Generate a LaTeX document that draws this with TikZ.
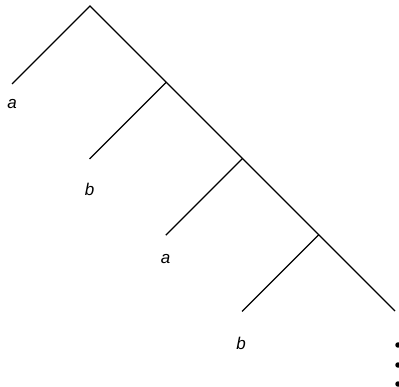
\documentclass[tikz,border=0pt]{standalone}
\usepackage{fontspec}
\setmainfont{Liberation Sans}
\usetikzlibrary{positioning,calc}
\tikzset{
	v/.style={coordinate},
	edge/.style={draw=black,line width=1.2pt},
	leaf/.style={font=\itshape\fontsize{17}{17}\selectfont,inner sep=0pt},
	dot/.style={circle,fill=black,inner sep=0pt,minimum size=5.5pt},
}
\begin{document}
\begin{tikzpicture}[x=1pt,y=-1pt]
					\useasboundingbox (0,0) rectangle (399,387);
					\coordinate (r) at (90,6);
					\coordinate (s1) at (166.25,82.25);
					\coordinate (s2) at (242.5,158.5);
					\coordinate (s3) at (318.75,234.75);
					\coordinate (e) at (395,311);
					\coordinate (l0) at (12,84);
					\coordinate (l1) at (89.5,159);
					\coordinate (l2) at (165.75,235.25);
					\coordinate (l3) at (242,311.5);
					\node[leaf] (a0) at (12,104) {a};
					\node[leaf] (b1) at (89.5,189) {b};
					\node[leaf] (a2) at (165.5,259) {a};
					\node[leaf] (b3) at (241,343) {b};
					\draw[edge] (l0)--(r)--(e);
					\draw[edge] (s1)--(l1);
					\draw[edge] (s2)--(l2);
					\draw[edge] (s3)--(l3);
					\node[dot] (d1) at (398,345) {};
					\node[dot] (d2) at (398,365) {};
					\node[dot] (d3) at (398,384) {};
				\end{tikzpicture}
\end{document}
